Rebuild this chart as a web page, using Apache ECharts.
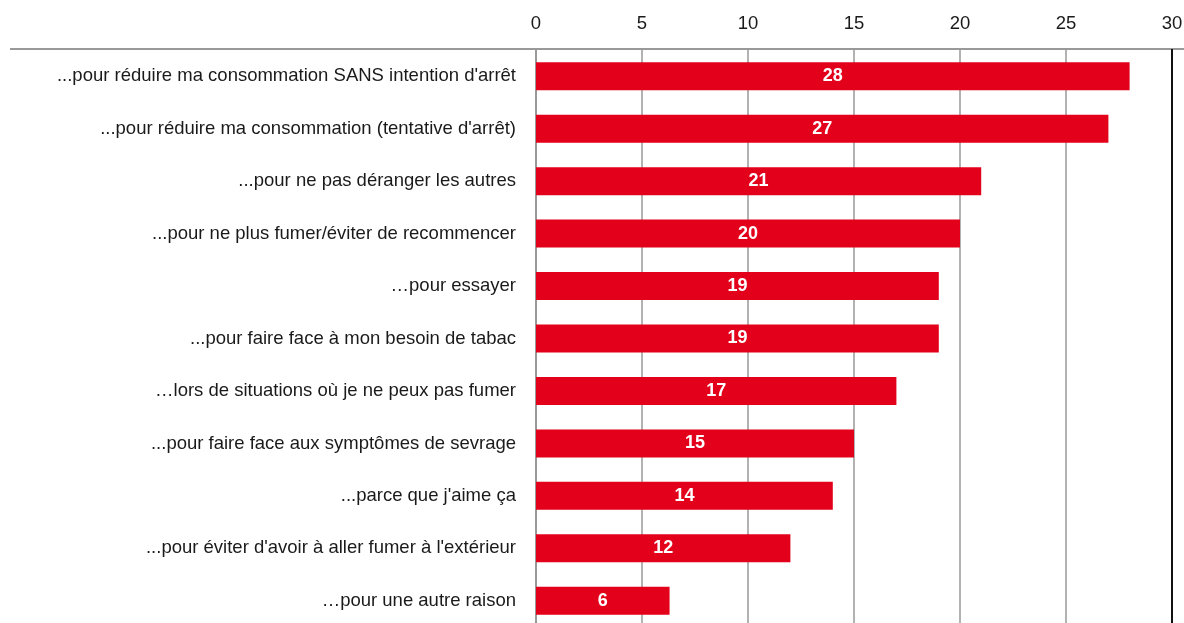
<!DOCTYPE html>
<html><head><meta charset="utf-8">
<script src="https://cdn.jsdelivr.net/npm/echarts@6/dist/echarts.min.js"></script>
<style>html,body{margin:0;padding:0;background:#fff}#c{width:1184px;height:623px}</style>
</head><body><div id="c"></div>
<script>
const categories = [
  "...pour réduire ma consommation SANS intention d'arrêt",
  "...pour réduire ma consommation (tentative d'arrêt)",
  "...pour ne pas déranger les autres",
  "...pour ne plus fumer/éviter de recommencer",
  "…pour essayer",
  "...pour faire face à mon besoin de tabac",
  "…lors de situations où je ne peux pas fumer",
  "...pour faire face aux symptômes de sevrage",
  "...parce que j'aime ça",
  "...pour éviter d'avoir à aller fumer à l'extérieur",
  "…pour une autre raison"
];
const values = [28, 27, 21, 20, 19, 19, 17, 15, 14, 12, 6.3];
const tickLabels = [0, 5, 10, 15, 20, 25, 30];

const FONT = "'Liberation Sans Narrow', 'Arial Narrow', 'Liberation Sans', sans-serif";
const chart = echarts.init(document.getElementById('c'), null, {renderer: 'canvas'});
chart.setOption({
  animation: false,
  grid: {left: 536, right: 12, top: 50, height: 577, outerBoundsMode: 'none', containLabel: false},
  xAxis: {
    type: 'value', position: 'top', min: 0, max: 30, interval: 5,
    axisLine: {show: false}, axisTick: {show: false},
    axisLabel: {color: '#1a1a1a', fontFamily: FONT, fontSize: 18.5, margin: 17,
      formatter: v => tickLabels.includes(v) ? String(v) : ''},
    splitLine: {show: true, lineStyle: {color: '#999', width: 1.5}}
  },
  yAxis: {
    type: 'category', inverse: true, data: categories,
    axisLine: {show: true, lineStyle: {color: '#999', width: 2}},
    axisTick: {show: false},
    axisLabel: {color: '#1a1a1a', fontFamily: FONT, fontSize: 18.5, margin: 20}
  },
  series: [{
    type: 'bar', data: values, barWidth: 28,
    itemStyle: {color: '#e2001a'},
    label: {show: true, position: 'inside', color: '#fff', fontFamily: FONT,
      fontSize: 18, fontWeight: 'bold', formatter: p => Math.round(p.value)}
  }],
  graphic: [
    {type: 'line', shape: {x1: 10, y1: 49, x2: 1184, y2: 49}, style: {stroke: '#999', lineWidth: 2}, z: 10},
    {type: 'line', shape: {x1: 1172, y1: 49, x2: 1172, y2: 623}, style: {stroke: '#111', lineWidth: 2}, z: 10}
  ]
});
</script></body></html>
